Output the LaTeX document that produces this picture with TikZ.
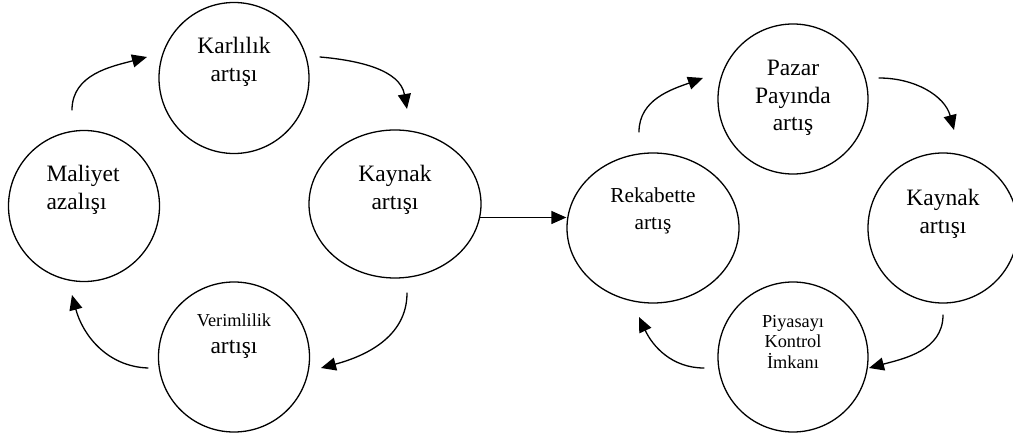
\documentclass[tikz,border=0pt]{standalone}
\usepackage{fontspec}
\setmainfont{Liberation Serif}
\usetikzlibrary{arrows.meta}
\usetikzlibrary{shapes.geometric}

\begin{document}
\begin{tikzpicture}[x=1pt,y=1pt,line cap=round,line join=round,>={Triangle[length=15pt,width=13pt]},
  halka/.style={draw,line width=1.3pt,ellipse,inner sep=0pt},
  yazi/.style={align=center,font=\fontsize{23.5}{27.5}\selectfont},
  kucuk/.style={align=center,font=\fontsize{18.3}{20.5}\selectfont},
  ok/.style={->,line width=1.3pt}]
\useasboundingbox (0,0) rectangle (1013,-438);
% left cycle
\node[halka,minimum width=150pt,minimum height=151pt] (karlilik) at (234,-78) {};
\node[halka,minimum width=151pt,minimum height=151pt] (maliyet) at (84,-206) {};
\node[halka,minimum width=172pt,minimum height=148pt] (kaynak) at (395,-204) {};
\node[halka,minimum width=151pt,minimum height=150pt] (verimlilik) at (234,-357) {};
\node[yazi] (karlilikyazi) at (234,-62) {Karlılık\\artışı};
\node[yazi,align=left,anchor=west] (maliyetyazi) at (43,-190) {Maliyet\\azalışı};
\node[yazi] (kaynakyazi) at (395,-190) {Kaynak\\artışı};
\node[yazi] (verimlilikyazi) at (234,-336) {{\fontsize{18.3}{22}\selectfont Verimlilik}\\artışı};
\coordinate (a1) at (72,-110);
\coordinate (a2) at (147,-57);
\coordinate (a3) at (320,-57);
\coordinate (a4) at (407,-109);
\coordinate (a5) at (407,-293);
\coordinate (a6) at (321,-368);
\coordinate (a7) at (148,-368);
\coordinate (a8) at (72,-295);
\draw[ok] (a1) to[out=90,in=195] (a2);
\draw[ok] (a3) to[out=-5,in=100] (a4);
\draw[ok] (a5) to[out=-90,in=15] (a6);
\draw[ok] (a7) to[out=178,in=-75] (a8);
% right cycle
\node[halka,minimum width=172pt,minimum height=150pt] (rekabet) at (653,-228) {};
\node[halka,minimum width=150pt,minimum height=150pt] (pazar) at (793,-99) {};
\node[halka,minimum width=150pt,minimum height=150pt] (kaynakb) at (943,-228) {};
\node[halka,minimum width=150pt,minimum height=150pt] (piyasa) at (793,-357) {};
\node[yazi,font=\fontsize{21.3}{27}\selectfont] (rekabetyazi) at (653,-211) {Rekabette\\artış};
\node[yazi] (pazaryazi) at (793,-98) {Pazar\\Payında\\artış};
\node[yazi] (kaynakbyazi) at (943,-214) {Kaynak\\artışı};
\node[kucuk] (piyasayazi) at (793,-342) {Piyasayı\\Kontrol\\İmkanı};
\coordinate (b1) at (639,-132);
\coordinate (b2) at (703,-78);
\coordinate (b3) at (879,-78);
\coordinate (b4) at (954,-130);
\coordinate (b5) at (943,-315);
\coordinate (b6) at (869,-368);
\coordinate (b7) at (704,-368);
\coordinate (b8) at (639,-317);
\draw[ok] (b1) to[out=90,in=200] (b2);
\draw[ok] (b3) to[out=0,in=105] (b4);
\draw[ok] (b5) to[out=-90,in=15] (b6);
\draw[ok] (b7) to[out=180,in=-65] (b8);
% link
\draw[ok] (kaynak.-9) -- (kaynak.-9 -| rekabet.west);
\end{tikzpicture}
\end{document}
